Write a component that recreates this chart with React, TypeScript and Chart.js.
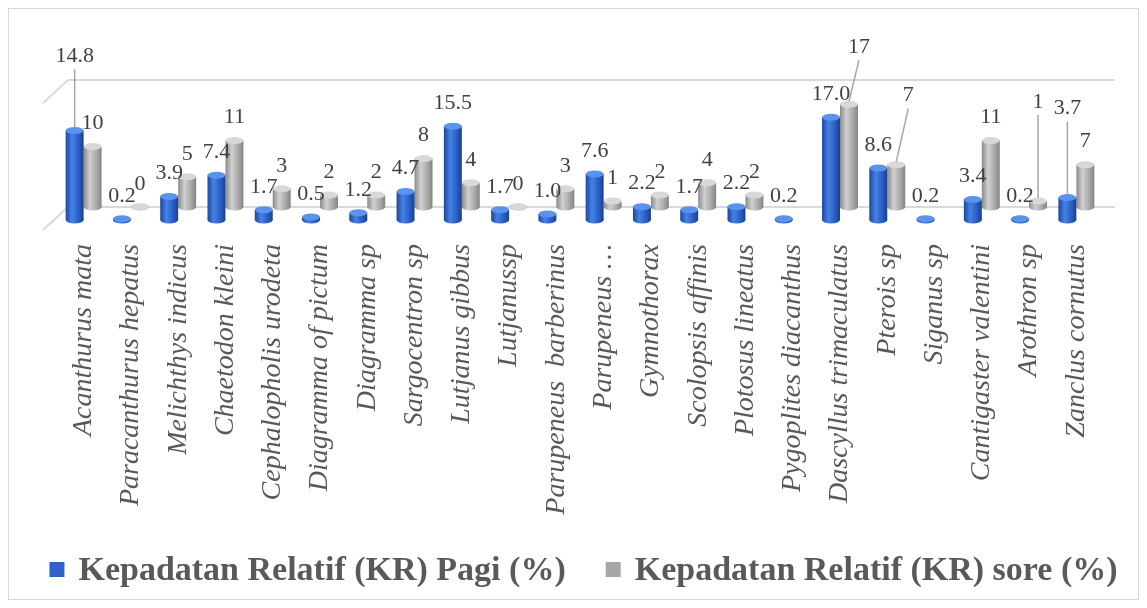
import React, { useEffect, useRef } from "react";
import { Chart, registerables } from "chart.js";
Chart.register(...registerables);

const categories = [
  "Acanthurus mata", "Paracanthurus hepatus", "Melichthys indicus", "Chaetodon kleini",
  "Cephalopholis urodeta", "Diagramma of pictum", "Diagramma sp", "Sargocentron sp",
  "Lutjanus gibbus", "Lutjanussp", "Parupeneus  barberinus", "Parupeneus …",
  "Gymnothorax", "Scolopsis affinis", "Plotosus lineatus", "Pygoplites diacanthus",
  "Dascyllus trimaculatus", "Pterois sp", "Siganus sp", "Cantigaster valentini",
  "Arothron sp", "Zanclus cornutus",
];
const pagi = [14.8, 0.2, 3.9, 7.4, 1.7, 0.5, 1.2, 4.7, 15.5, 1.7, 1.0, 7.6, 2.2, 1.7, 2.2, 0.2, 17.0, 8.6, 0.2, 3.4, 0.2, 3.7];
const sore: (number | null)[] = [10, 0, 5, 11, 3, 2, 2, 8, 4, 0, 3, 1, 2, 4, 2, null, 17, 7, null, 11, 1, 7];
const pagiLabels = pagi.map((v) => v.toFixed(1));
const soreLabels = sore.map((v) => (v == null ? "" : String(v)));
const seriesNames = ["Kepadatan Relatif (KR) Pagi (%)", "Kepadatan Relatif (KR) sore (%)"];
const yTicks = [0, 21];

const BLUE = "#2f62c8";
const GRAY = "#a6a6a6";
const legendColors = [BLUE, GRAY];
const DEPTH = 13; // 3D depth offset of the back row (px)

// labels moved away with leader lines: lift (px) and horizontal shift (px)
const labelMove: Record<number, Record<number, { lift: number; dx: number }>> = {
  0: { 0: { lift: 51, dx: 0 }, 21: { lift: 66, dx: 0 } },
  1: { 16: { lift: 34, dx: 10 }, 17: { lift: 46, dx: 12 }, 20: { lift: 76, dx: 0 } },
};

const cylinderPlugin = {
  id: "cylinders",
  afterDatasetsDraw(chart: any) {
    const ctx = chart.ctx;
    const texts = [pagiLabels, soreLabels];
    const order = [1, 0];
    order.forEach((di) => {
      const ds = chart.data.datasets[di];
      const meta = chart.getDatasetMeta(di);
      const off = di === 1 ? DEPTH : 0;
      const stops =
        di === 0
          ? ["#1b469e", "#4682e6", "#2b60c6", "#193f92"]
          : ["#8a8a8a", "#d0d0d0", "#ababab", "#848484"];
      const capColor = di === 0 ? "#5b92ec" : "#d8d8d8";
      meta.data.forEach((el: any, i: number) => {
        if (ds.data[i] == null) return;
        const w = el.width;
        const x0 = el.x - w / 2;
        const top = el.y - off;
        const base = el.base - off;
        const g = ctx.createLinearGradient(x0, 0, x0 + w, 0);
        g.addColorStop(0, stops[0]);
        g.addColorStop(0.35, stops[1]);
        g.addColorStop(0.7, stops[2]);
        g.addColorStop(1, stops[3]);
        const ry = 3.5;
        ctx.save();
        ctx.fillStyle = g;
        ctx.fillRect(x0, top, w, base - top);
        ctx.beginPath();
        ctx.ellipse(el.x, base, w / 2, ry, 0, 0, Math.PI * 2);
        ctx.fill();
        ctx.beginPath();
        ctx.ellipse(el.x, top, w / 2, ry, 0, 0, Math.PI * 2);
        ctx.fillStyle = capColor;
        ctx.fill();
        ctx.restore();
      });
    });
    // data labels
    [0, 1].forEach((di) => {
      const ds = chart.data.datasets[di];
      const meta = chart.getDatasetMeta(di);
      const off = di === 1 ? DEPTH : 0;
      meta.data.forEach((el: any, i: number) => {
        if (ds.data[i] == null) return;
        const txt = texts[di][i];
        const mv = labelMove[di] && labelMove[di][i];
        const lift = mv ? mv.lift : 0;
        const dx = mv ? mv.dx : 0;
        const top = el.y - off;
        const yb = top - 12 - lift;
        ctx.save();
        if (mv) {
          ctx.strokeStyle = "#a6a6a6";
          ctx.lineWidth = 1.5;
          ctx.beginPath();
          ctx.moveTo(el.x + dx, yb + 2);
          ctx.lineTo(el.x, top - 3);
          ctx.stroke();
        }
        ctx.font = "22px 'Liberation Serif', serif";
        ctx.fillStyle = "#404040";
        ctx.textAlign = "center";
        ctx.textBaseline = "bottom";
        ctx.fillText(txt, el.x + dx, yb);
        ctx.restore();
      });
    });
  },
};

const wallPlugin = {
  id: "walls",
  beforeDatasetsDraw(chart: any) {
    const { ctx, chartArea, scales } = chart;
    const y = scales.y;
    ctx.save();
    ctx.strokeStyle = "#d9d9d9";
    ctx.lineWidth = 2;
    yTicks.forEach((v) => {
      const py = y.getPixelForValue(v) - DEPTH;
      ctx.beginPath();
      ctx.moveTo(chartArea.left + 8, py);
      ctx.lineTo(chartArea.right + 15, py);
      ctx.stroke();
      ctx.beginPath();
      ctx.moveTo(chartArea.left - 17, py + 23);
      ctx.lineTo(chartArea.left + 8, py);
      ctx.stroke();
    });
    ctx.restore();
  },
};

const legendPlugin = {
  id: "bottomLegend",
  afterDraw(chart: any) {
    const ctx = chart.ctx;
    const W = chart.width;
    const H = chart.height;
    const box = 15;
    const gapBoxText = 14;
    const gapItems = 40;
    ctx.save();
    ctx.font = "bold 34px 'Liberation Serif', serif";
    const widths = seriesNames.map((t) => box + gapBoxText + ctx.measureText(t).width);
    const total = widths[0] + widths[1] + gapItems;
    let x = W / 2 + 10 - total / 2;
    const baseline = H - 19;
    seriesNames.forEach((t, i) => {
      ctx.fillStyle = legendColors[i];
      ctx.fillRect(x, baseline - box - 3, box, box);
      ctx.fillStyle = "#595959";
      ctx.textAlign = "left";
      ctx.textBaseline = "alphabetic";
      ctx.fillText(t, x + box + gapBoxText, baseline);
      x += widths[i] + gapItems;
    });
    ctx.restore();
  },
};

const hiddenAxis = (pos: string, width: number) => ({
  position: pos,
  display: true,
  min: 0,
  max: 21,
  ticks: { display: false },
  grid: { display: false, drawTicks: false },
  border: { display: false },
  afterFit: (scale: any) => {
    scale.width = width;
  },
});

export default function App() {
  const ref = useRef<HTMLCanvasElement>(null);
  useEffect(() => {
    if (!ref.current) return;
    const chart = new Chart(ref.current, {
      type: "bar",
      data: {
        labels: categories,
        datasets: [
          { label: seriesNames[0], data: pagi, backgroundColor: "rgba(0,0,0,0)", yAxisID: "y" },
          { label: seriesNames[1], data: sore, backgroundColor: "rgba(0,0,0,0)", yAxisID: "y" },
        ],
      },
      options: {
        animation: false,
        responsive: true,
        maintainAspectRatio: false,
        datasets: { bar: { categoryPercentage: 0.76, barPercentage: 1.0 } },
        layout: { padding: { left: 0, right: 0, top: 84, bottom: 79 } },
        scales: {
          x: {
            grid: { display: false },
            border: { display: false },
            afterFit: (scale: any) => {
              scale.height = 300;
            },
            ticks: {
              autoSkip: false,
              minRotation: 90,
              maxRotation: 90,
              padding: 16,
              color: "#595959",
              font: { family: "'Liberation Serif', serif", style: "italic", size: 28 },
            },
          },
          y: hiddenAxis("left", 51) as any,
          y2: hiddenAxis("right", 38) as any,
        },
        plugins: {
          legend: { display: false },
          tooltip: { enabled: false },
        },
      },
      plugins: [wallPlugin, cylinderPlugin, legendPlugin],
    });
    return () => chart.destroy();
  }, []);
  return (
    <div
      style={{
        width: 1131,
        height: 592,
        border: "1px solid #d9d9d9",
        boxSizing: "border-box",
        position: "relative",
        background: "#fff",
      }}
    >
      <canvas ref={ref} />
    </div>
  );
}
